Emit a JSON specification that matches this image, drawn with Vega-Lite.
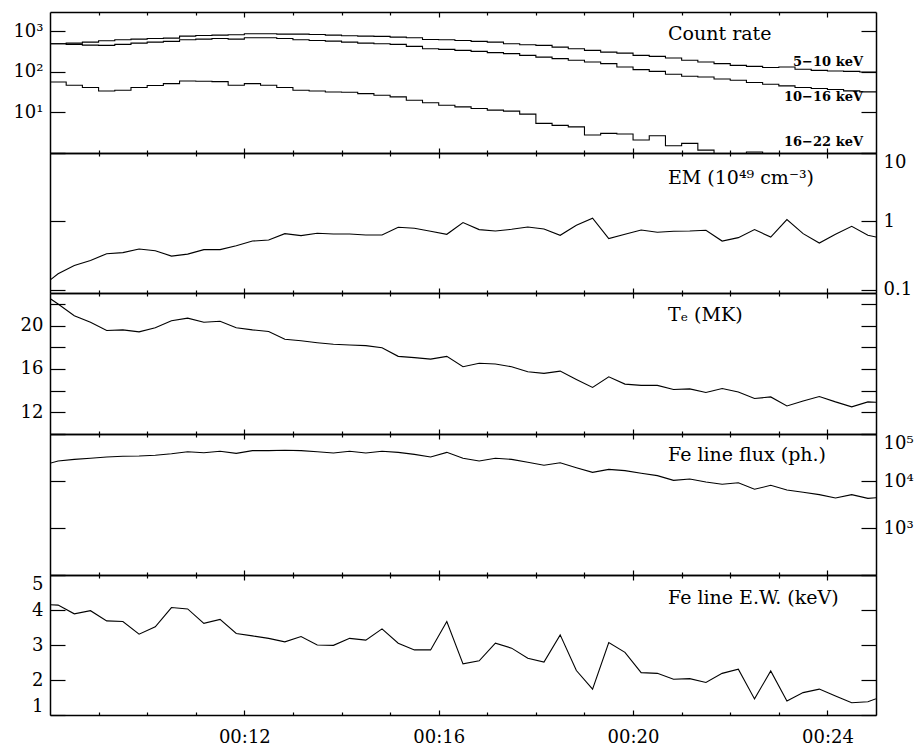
{
  "$schema": "https://vega.github.io/schema/vega-lite/v6.json",
  "padding": {"left": 5, "top": 11, "right": 0, "bottom": 0},
  "background": "white",
  "datasets": {
    "lines": [
      {"t": 7.8333, "em": 0.111, "te": 23.0, "flux": 21300, "ew": 4.16},
      {"t": 8.1667, "em": 0.170, "te": 21.98, "flux": 26700, "ew": 4.14},
      {"t": 8.5, "em": 0.225, "te": 20.9, "flux": 28900, "ew": 3.89},
      {"t": 8.8333, "em": 0.267, "te": 20.3, "flux": 30400, "ew": 3.98},
      {"t": 9.1667, "em": 0.335, "te": 19.54, "flux": 32400, "ew": 3.69},
      {"t": 9.5, "em": 0.347, "te": 19.6, "flux": 33500, "ew": 3.67},
      {"t": 9.8333, "em": 0.392, "te": 19.42, "flux": 34000, "ew": 3.31},
      {"t": 10.1667, "em": 0.371, "te": 19.8, "flux": 35200, "ew": 3.52},
      {"t": 10.5, "em": 0.309, "te": 20.44, "flux": 38100, "ew": 4.07},
      {"t": 10.8333, "em": 0.330, "te": 20.68, "flux": 42000, "ew": 4.03},
      {"t": 11.1667, "em": 0.384, "te": 20.3, "flux": 40000, "ew": 3.62},
      {"t": 11.5, "em": 0.384, "te": 20.4, "flux": 42900, "ew": 3.73},
      {"t": 11.8333, "em": 0.439, "te": 19.8, "flux": 38800, "ew": 3.33},
      {"t": 12.1667, "em": 0.513, "te": 19.6, "flux": 44200, "ew": 3.26},
      {"t": 12.5, "em": 0.531, "te": 19.45, "flux": 44200, "ew": 3.19},
      {"t": 12.8333, "em": 0.659, "te": 18.74, "flux": 45000, "ew": 3.09},
      {"t": 13.1667, "em": 0.616, "te": 18.6, "flux": 44200, "ew": 3.24},
      {"t": 13.5, "em": 0.666, "te": 18.42, "flux": 42000, "ew": 3.0},
      {"t": 13.8333, "em": 0.651, "te": 18.27, "flux": 39400, "ew": 2.99},
      {"t": 14.1667, "em": 0.651, "te": 18.2, "flux": 42900, "ew": 3.19},
      {"t": 14.5, "em": 0.629, "te": 18.15, "flux": 39400, "ew": 3.14},
      {"t": 14.8333, "em": 0.629, "te": 17.95, "flux": 42900, "ew": 3.46},
      {"t": 15.1667, "em": 0.816, "te": 17.16, "flux": 40700, "ew": 3.05},
      {"t": 15.5, "em": 0.789, "te": 17.04, "flux": 36900, "ew": 2.86},
      {"t": 15.8333, "em": 0.713, "te": 16.9, "flux": 32400, "ew": 2.86},
      {"t": 16.1667, "em": 0.644, "te": 17.16, "flux": 40700, "ew": 3.67},
      {"t": 16.5, "em": 0.957, "te": 16.2, "flux": 30400, "ew": 2.46},
      {"t": 16.8333, "em": 0.755, "te": 16.52, "flux": 26700, "ew": 2.55},
      {"t": 17.1667, "em": 0.720, "te": 16.45, "flux": 30400, "ew": 3.05},
      {"t": 17.5, "em": 0.763, "te": 16.2, "flux": 28900, "ew": 2.91},
      {"t": 17.8333, "em": 0.824, "te": 15.74, "flux": 25000, "ew": 2.62},
      {"t": 18.1667, "em": 0.771, "te": 15.59, "flux": 21600, "ew": 2.51},
      {"t": 18.5, "em": 0.623, "te": 15.8, "flux": 24500, "ew": 3.29},
      {"t": 18.8333, "em": 0.873, "te": 15.03, "flux": 19200, "ew": 2.27},
      {"t": 19.1667, "em": 1.107, "te": 14.29, "flux": 15300, "ew": 1.74},
      {"t": 19.5, "em": 0.557, "te": 15.27, "flux": 17700, "ew": 3.07},
      {"t": 19.8333, "em": 0.644, "te": 14.6, "flux": 16600, "ew": 2.79},
      {"t": 20.1667, "em": 0.745, "te": 14.48, "flux": 14600, "ew": 2.21},
      {"t": 20.5, "em": 0.689, "te": 14.48, "flux": 13000, "ew": 2.19},
      {"t": 20.8333, "em": 0.713, "te": 14.1, "flux": 10300, "ew": 2.02},
      {"t": 21.1667, "em": 0.720, "te": 14.16, "flux": 11000, "ew": 2.04},
      {"t": 21.5, "em": 0.737, "te": 13.83, "flux": 9530, "ew": 1.93},
      {"t": 21.8333, "em": 0.513, "te": 14.2, "flux": 8510, "ew": 2.19},
      {"t": 22.1667, "em": 0.576, "te": 13.88, "flux": 9200, "ew": 2.31},
      {"t": 22.5, "em": 0.755, "te": 13.27, "flux": 6660, "ew": 1.46},
      {"t": 22.8333, "em": 0.588, "te": 13.42, "flux": 8110, "ew": 2.26},
      {"t": 23.1667, "em": 1.059, "te": 12.59, "flux": 6440, "ew": 1.4},
      {"t": 23.5, "em": 0.659, "te": 13.05, "flux": 5750, "ew": 1.64},
      {"t": 23.8333, "em": 0.480, "te": 13.46, "flux": 5120, "ew": 1.74},
      {"t": 24.1667, "em": 0.644, "te": 12.96, "flux": 4350, "ew": 1.54},
      {"t": 24.5, "em": 0.844, "te": 12.5, "flux": 5120, "ew": 1.35},
      {"t": 24.8333, "em": 0.623, "te": 12.96, "flux": 4280, "ew": 1.38},
      {"t": 25.1667, "em": 0.557, "te": 12.9, "flux": 4500, "ew": 1.55}
    ],
    "counts": [
      {"t": 8, "lo": 496, "mid": 496, "hi": 56.5},
      {"t": 8.3333, "lo": 513, "mid": 477, "hi": 46.9},
      {"t": 8.6667, "lo": 543, "mid": 458, "hi": 41.2},
      {"t": 9, "lo": 588, "mid": 451, "hi": 33.8},
      {"t": 9.3333, "lo": 622, "mid": 477, "hi": 35.2},
      {"t": 9.6667, "lo": 643, "mid": 513, "hi": 41.2},
      {"t": 10, "lo": 669, "mid": 543, "hi": 46},
      {"t": 10.3333, "lo": 681, "mid": 565, "hi": 51.5},
      {"t": 10.6667, "lo": 762, "mid": 622, "hi": 59.7},
      {"t": 11, "lo": 793, "mid": 643, "hi": 58.7},
      {"t": 11.3333, "lo": 807, "mid": 669, "hi": 57.7},
      {"t": 11.6667, "lo": 825, "mid": 643, "hi": 46.9},
      {"t": 12, "lo": 873, "mid": 697, "hi": 51.5},
      {"t": 12.3333, "lo": 873, "mid": 697, "hi": 46.9},
      {"t": 12.6667, "lo": 853, "mid": 669, "hi": 41.2},
      {"t": 13, "lo": 853, "mid": 622, "hi": 35.2},
      {"t": 13.3333, "lo": 839, "mid": 597, "hi": 33.8},
      {"t": 13.6667, "lo": 807, "mid": 574, "hi": 32},
      {"t": 14, "lo": 780, "mid": 543, "hi": 31.5},
      {"t": 14.3333, "lo": 762, "mid": 513, "hi": 29.2},
      {"t": 14.6667, "lo": 750, "mid": 496, "hi": 26.6},
      {"t": 15, "lo": 720, "mid": 477, "hi": 24.2},
      {"t": 15.3333, "lo": 697, "mid": 426, "hi": 20},
      {"t": 15.6667, "lo": 632, "mid": 373, "hi": 17.3},
      {"t": 16, "lo": 622, "mid": 359, "hi": 15.1},
      {"t": 16.3333, "lo": 597, "mid": 340, "hi": 13.7},
      {"t": 16.6667, "lo": 565, "mid": 321, "hi": 12.5},
      {"t": 17, "lo": 543, "mid": 298, "hi": 11.4},
      {"t": 17.3333, "lo": 496, "mid": 282, "hi": 10.8},
      {"t": 17.6667, "lo": 469, "mid": 256, "hi": 9.1},
      {"t": 18, "lo": 451, "mid": 232, "hi": 5.37},
      {"t": 18.3333, "lo": 409, "mid": 212, "hi": 4.79},
      {"t": 18.6667, "lo": 373, "mid": 193, "hi": 4.42},
      {"t": 19, "lo": 340, "mid": 175, "hi": 2.77},
      {"t": 19.3333, "lo": 308, "mid": 160, "hi": 3.04},
      {"t": 19.6667, "lo": 291, "mid": 132, "hi": 2.93},
      {"t": 20, "lo": 256, "mid": 114, "hi": 2.09},
      {"t": 20.3333, "lo": 242, "mid": 103, "hi": 2.66},
      {"t": 20.6667, "lo": 220, "mid": 87.3, "hi": 1.51},
      {"t": 21, "lo": 193, "mid": 78, "hi": 1.73},
      {"t": 21.3333, "lo": 175, "mid": 75, "hi": 1.18},
      {"t": 21.6667, "lo": 160, "mid": 67, "hi": 0.95},
      {"t": 22, "lo": 145, "mid": 62.2, "hi": 0.8},
      {"t": 22.3333, "lo": 137, "mid": 54.6, "hi": 1.06},
      {"t": 22.6667, "lo": 128, "mid": 49.6, "hi": 0.8},
      {"t": 23, "lo": 132, "mid": 45.1, "hi": 0.7},
      {"t": 23.3333, "lo": 116, "mid": 41.1, "hi": 0.6},
      {"t": 23.6667, "lo": 109, "mid": 38.9, "hi": 0.7},
      {"t": 24, "lo": 105, "mid": 36.8, "hi": 0.6},
      {"t": 24.3333, "lo": 103, "mid": 34, "hi": 0.5},
      {"t": 24.6667, "lo": 99.5, "mid": 32.1, "hi": 0.55},
      {"t": 25, "lo": 99.5, "mid": 32.1, "hi": 0.55}
    ]
  },
  "spacing": 0,
  "bounds": "flush",
  "vconcat": [
    {
      "width": 826, "height": 141,
      "data": {"name": "counts"},
      "transform": [{"fold": ["lo", "mid", "hi"], "as": ["band", "rate"]}],
      "title": {"text": "Count rate", "dx": 618, "offset": -33},
      "layer": [
        {
          "mark": {"type": "line", "interpolate": "step-after", "clip": true, "color": "#000", "strokeWidth": 1.1},
          "encoding": {
            "x": {"field": "t", "type": "quantitative", "title": null, "scale": {"domain": [8, 25], "nice": false, "zero": false},
                  "axis": {"orient": "bottom", "values": [12, 16, 20, 24], "tickSize": -5, "labels": false, "minExtent": 0, "maxExtent": 0}},
            "y": {"field": "rate", "type": "quantitative", "title": null, "scale": {"type": "log", "domain": [1, 3000], "nice": false},
                  "axis": {"orient": "left", "values": [1, 10, 100, 1000], "tickSize": -15, "labelPadding": 22, "minExtent": 45, "maxExtent": 45,
                           "labelExpr": "datum.value >= 1000 ? '10³' : datum.value >= 100 ? '10²' : datum.value >= 10 ? '10¹' : ''"}},
            "detail": {"field": "band"}
          }
        },
        {
          "mark": {"type": "line", "opacity": 0},
          "encoding": {
            "x": {"field": "t", "type": "quantitative", "title": null,
                  "axis": {"orient": "top", "values": [12, 16, 20, 24], "tickSize": -5, "labels": false, "minExtent": 0, "maxExtent": 0}},
            "y": {"field": "rate", "type": "quantitative", "title": null,
                  "axis": {"orient": "right", "values": [1, 10, 100, 1000], "tickSize": -15, "labels": false, "minExtent": 0}},
            "detail": {"field": "band"}
          }
        },
        {
          "mark": {"type": "line", "opacity": 0},
          "encoding": {
            "x": {"field": "t", "type": "quantitative", "title": null,
                  "axis": {"orient": "bottom", "values": [9, 10, 11, 13, 14, 15, 17, 18, 19, 21, 22, 23], "tickSize": -3, "labels": false, "domain": false, "minExtent": 0, "maxExtent": 0}},
            "y": {"field": "rate", "type": "quantitative", "axis": null},
            "detail": {"field": "band"}
          }
        },
        {
          "mark": {"type": "line", "opacity": 0},
          "encoding": {
            "x": {"field": "t", "type": "quantitative", "title": null,
                  "axis": {"orient": "top", "values": [9, 10, 11, 13, 14, 15, 17, 18, 19, 21, 22, 23], "tickSize": -3, "labels": false, "domain": false, "minExtent": 0, "maxExtent": 0}},
            "y": {"field": "rate", "type": "quantitative", "axis": null},
            "detail": {"field": "band"}
          }
        },
        {
          "transform": [{"filter": "datum.t == 25 && datum.band == 'lo'"}],
          "mark": {"type": "text", "text": "5−10 keV", "align": "right", "baseline": "alphabetic", "dx": -13, "font": "DejaVu Serif", "fontWeight": "bold", "fontSize": 13, "color": "#000"},
          "encoding": {
            "x": {"datum": 25, "type": "quantitative", "axis": null},
            "y": {"datum": 137, "type": "quantitative", "axis": null}
          }
        },
        {
          "transform": [{"filter": "datum.t == 25 && datum.band == 'lo'"}],
          "mark": {"type": "text", "text": "10−16 keV", "align": "right", "baseline": "alphabetic", "dx": -13, "font": "DejaVu Serif", "fontWeight": "bold", "fontSize": 13, "color": "#000"},
          "encoding": {
            "x": {"datum": 25, "type": "quantitative", "axis": null},
            "y": {"datum": 19, "type": "quantitative", "axis": null}
          }
        },
        {
          "transform": [{"filter": "datum.t == 25 && datum.band == 'lo'"}],
          "mark": {"type": "text", "text": "16−22 keV", "align": "right", "baseline": "alphabetic", "dx": -13, "font": "DejaVu Serif", "fontWeight": "bold", "fontSize": 13, "color": "#000"},
          "encoding": {
            "x": {"datum": 25, "type": "quantitative", "axis": null},
            "y": {"datum": 1.49, "type": "quantitative", "axis": null}
          }
        }
      ],
      "resolve": {"axis": {"x": "independent", "y": "independent"}}
    },
    {
      "width": 826, "height": 140,
      "data": {"name": "lines"},
      "title": {"text": "EM (10⁴⁹ cm⁻³)", "dx": 618, "offset": -36},
      "layer": [
        {
          "mark": {"type": "line", "clip": true, "color": "#000", "strokeWidth": 1.1},
          "encoding": {
            "x": {"field": "t", "type": "quantitative", "title": null, "scale": {"domain": [8, 25], "nice": false, "zero": false},
                  "axis": {"orient": "bottom", "values": [12, 16, 20, 24], "tickSize": -5, "labels": false, "minExtent": 0, "maxExtent": 0}},
            "y": {"field": "em", "type": "quantitative", "title": null, "scale": {"type": "log", "domain": [0.089, 10], "nice": false},
                  "axis": {"orient": "left", "values": [0.1, 1, 10], "tickSize": -15, "labels": false, "minExtent": 45, "maxExtent": 45}}
          }
        },
        {
          "mark": {"type": "line", "opacity": 0},
          "encoding": {
            "x": {"field": "t", "type": "quantitative", "title": null,
                  "axis": {"orient": "top", "values": [12, 16, 20, 24], "tickSize": -5, "labels": false, "minExtent": 0, "maxExtent": 0}},
            "y": {"field": "em", "type": "quantitative", "title": null,
                  "axis": {"orient": "right", "values": [0.1, 1, 10], "tickSize": -15, "labelPadding": 22, "labelFlush": true,
                           "labelExpr": "datum.value >= 10 ? '10' : datum.value >= 1 ? '1' : '0.1'"}}
          }
        },
        {
          "mark": {"type": "line", "opacity": 0},
          "encoding": {
            "x": {"field": "t", "type": "quantitative", "title": null,
                  "axis": {"orient": "bottom", "values": [9, 10, 11, 13, 14, 15, 17, 18, 19, 21, 22, 23], "tickSize": -3, "labels": false, "domain": false, "minExtent": 0, "maxExtent": 0}},
            "y": {"field": "em", "type": "quantitative", "axis": null}
          }
        },
        {
          "mark": {"type": "line", "opacity": 0},
          "encoding": {
            "x": {"field": "t", "type": "quantitative", "title": null,
                  "axis": {"orient": "top", "values": [9, 10, 11, 13, 14, 15, 17, 18, 19, 21, 22, 23], "tickSize": -3, "labels": false, "domain": false, "minExtent": 0, "maxExtent": 0}},
            "y": {"field": "em", "type": "quantitative", "axis": null}
          }
        }
      ],
      "resolve": {"axis": {"x": "independent", "y": "independent"}}
    },
    {
      "width": 826, "height": 141,
      "data": {"name": "lines"},
      "title": {"text": "Tₑ (MK)", "dx": 618, "offset": -33},
      "layer": [
        {
          "mark": {"type": "line", "clip": true, "color": "#000", "strokeWidth": 1.1},
          "encoding": {
            "x": {"field": "t", "type": "quantitative", "title": null, "scale": {"domain": [8, 25], "nice": false, "zero": false},
                  "axis": {"orient": "bottom", "values": [12, 16, 20, 24], "tickSize": -5, "labels": false, "minExtent": 0, "maxExtent": 0}},
            "y": {"field": "te", "type": "quantitative", "title": null, "scale": {"domain": [10, 23], "nice": false, "zero": false},
                  "axis": {"orient": "left", "values": [10, 12, 14, 16, 18, 20, 22], "tickSize": -15, "labelPadding": 22, "minExtent": 45, "maxExtent": 45,
                           "labelExpr": "datum.value % 4 == 0 ? datum.label : ''"}}
          }
        },
        {
          "mark": {"type": "line", "opacity": 0},
          "encoding": {
            "x": {"field": "t", "type": "quantitative", "title": null,
                  "axis": {"orient": "top", "values": [12, 16, 20, 24], "tickSize": -5, "labels": false, "minExtent": 0, "maxExtent": 0}},
            "y": {"field": "te", "type": "quantitative", "title": null,
                  "axis": {"orient": "right", "values": [10, 12, 14, 16, 18, 20, 22], "tickSize": -15, "labels": false}}
          }
        },
        {
          "mark": {"type": "line", "opacity": 0},
          "encoding": {
            "x": {"field": "t", "type": "quantitative", "title": null,
                  "axis": {"orient": "bottom", "values": [9, 10, 11, 13, 14, 15, 17, 18, 19, 21, 22, 23], "tickSize": -3, "labels": false, "domain": false, "minExtent": 0, "maxExtent": 0}},
            "y": {"field": "te", "type": "quantitative", "axis": null}
          }
        },
        {
          "mark": {"type": "line", "opacity": 0},
          "encoding": {
            "x": {"field": "t", "type": "quantitative", "title": null,
                  "axis": {"orient": "top", "values": [9, 10, 11, 13, 14, 15, 17, 18, 19, 21, 22, 23], "tickSize": -3, "labels": false, "domain": false, "minExtent": 0, "maxExtent": 0}},
            "y": {"field": "te", "type": "quantitative", "axis": null}
          }
        }
      ],
      "resolve": {"axis": {"x": "independent", "y": "independent"}}
    },
    {
      "width": 826, "height": 141,
      "data": {"name": "lines"},
      "title": {"text": "Fe line flux (ph.)", "dx": 618, "offset": -32},
      "layer": [
        {
          "mark": {"type": "line", "clip": true, "color": "#000", "strokeWidth": 1.1},
          "encoding": {
            "x": {"field": "t", "type": "quantitative", "title": null, "scale": {"domain": [8, 25], "nice": false, "zero": false},
                  "axis": {"orient": "bottom", "values": [12, 16, 20, 24], "tickSize": -5, "labels": false, "minExtent": 0, "maxExtent": 0}},
            "y": {"field": "flux", "type": "quantitative", "title": null, "scale": {"type": "log", "domain": [100, 100000], "nice": false},
                  "axis": {"orient": "left", "values": [100, 1000, 10000, 100000], "tickSize": -15, "labels": false, "minExtent": 45, "maxExtent": 45}}
          }
        },
        {
          "mark": {"type": "line", "opacity": 0},
          "encoding": {
            "x": {"field": "t", "type": "quantitative", "title": null,
                  "axis": {"orient": "top", "values": [12, 16, 20, 24], "tickSize": -5, "labels": false, "minExtent": 0, "maxExtent": 0}},
            "y": {"field": "flux", "type": "quantitative", "title": null,
                  "axis": {"orient": "right", "values": [100, 1000, 10000, 100000], "tickSize": -15, "labelPadding": 22, "labelFlush": true,
                           "labelExpr": "datum.value >= 100000 ? '10⁵' : datum.value >= 10000 ? '10⁴' : datum.value >= 1000 ? '10³' : ''"}}
          }
        },
        {
          "mark": {"type": "line", "opacity": 0},
          "encoding": {
            "x": {"field": "t", "type": "quantitative", "title": null,
                  "axis": {"orient": "bottom", "values": [9, 10, 11, 13, 14, 15, 17, 18, 19, 21, 22, 23], "tickSize": -3, "labels": false, "domain": false, "minExtent": 0, "maxExtent": 0}},
            "y": {"field": "flux", "type": "quantitative", "axis": null}
          }
        },
        {
          "mark": {"type": "line", "opacity": 0},
          "encoding": {
            "x": {"field": "t", "type": "quantitative", "title": null,
                  "axis": {"orient": "top", "values": [9, 10, 11, 13, 14, 15, 17, 18, 19, 21, 22, 23], "tickSize": -3, "labels": false, "domain": false, "minExtent": 0, "maxExtent": 0}},
            "y": {"field": "flux", "type": "quantitative", "axis": null}
          }
        }
      ],
      "resolve": {"axis": {"x": "independent", "y": "independent"}}
    },
    {
      "width": 826, "height": 140,
      "data": {"name": "lines"},
      "title": {"text": "Fe line E.W. (keV)", "dx": 618, "offset": -34},
      "layer": [
        {
          "mark": {"type": "line", "clip": true, "color": "#000", "strokeWidth": 1.1},
          "encoding": {
            "x": {"field": "t", "type": "quantitative", "title": null, "scale": {"domain": [8, 25], "nice": false, "zero": false},
                  "axis": {"orient": "bottom", "values": [12, 16, 20, 24], "tickSize": -5, "labelPadding": 18, "labelFontSize": 18,
                           "labelExpr": "'00:' + datum.value"}},
            "y": {"field": "ew", "type": "quantitative", "title": null, "scale": {"domain": [1, 5], "nice": false, "zero": false},
                  "axis": {"orient": "left", "values": [1, 2, 3, 4, 5], "tickSize": -15, "labelPadding": 22, "labelFlush": true, "minExtent": 45, "maxExtent": 45,
                           "labelExpr": "datum.label"}}
          }
        },
        {
          "mark": {"type": "line", "opacity": 0},
          "encoding": {
            "x": {"field": "t", "type": "quantitative", "title": null,
                  "axis": {"orient": "top", "values": [12, 16, 20, 24], "tickSize": -5, "labels": false, "minExtent": 0, "maxExtent": 0}},
            "y": {"field": "ew", "type": "quantitative", "title": null,
                  "axis": {"orient": "right", "values": [1, 2, 3, 4, 5], "tickSize": -15, "labels": false}}
          }
        },
        {
          "mark": {"type": "line", "opacity": 0},
          "encoding": {
            "x": {"field": "t", "type": "quantitative", "title": null,
                  "axis": {"orient": "bottom", "values": [9, 10, 11, 13, 14, 15, 17, 18, 19, 21, 22, 23], "tickSize": -3, "labels": false, "domain": false, "minExtent": 0, "maxExtent": 0}},
            "y": {"field": "ew", "type": "quantitative", "axis": null}
          }
        },
        {
          "mark": {"type": "line", "opacity": 0},
          "encoding": {
            "x": {"field": "t", "type": "quantitative", "title": null,
                  "axis": {"orient": "top", "values": [9, 10, 11, 13, 14, 15, 17, 18, 19, 21, 22, 23], "tickSize": -3, "labels": false, "domain": false, "minExtent": 0, "maxExtent": 0}},
            "y": {"field": "ew", "type": "quantitative", "axis": null}
          }
        }
      ],
      "resolve": {"axis": {"x": "independent", "y": "independent"}}
    }
  ],
  "config": {
    "view": {"stroke": null},
    "axis": {
      "grid": false,
      "domainColor": "#000",
      "domainWidth": 1.5,
      "tickColor": "#000",
      "tickWidth": 1.2,
      "labelColor": "#000",
      "labelFont": "DejaVu Serif",
      "labelFontSize": 18,
      "labelOverlap": false,
      "labelBound": false
    },
    "title": {
      "font": "DejaVu Serif",
      "fontSize": 19,
      "fontWeight": "normal",
      "color": "#000",
      "anchor": "start",
      "frame": "group",
      "baseline": "alphabetic"
    }
  }
}
